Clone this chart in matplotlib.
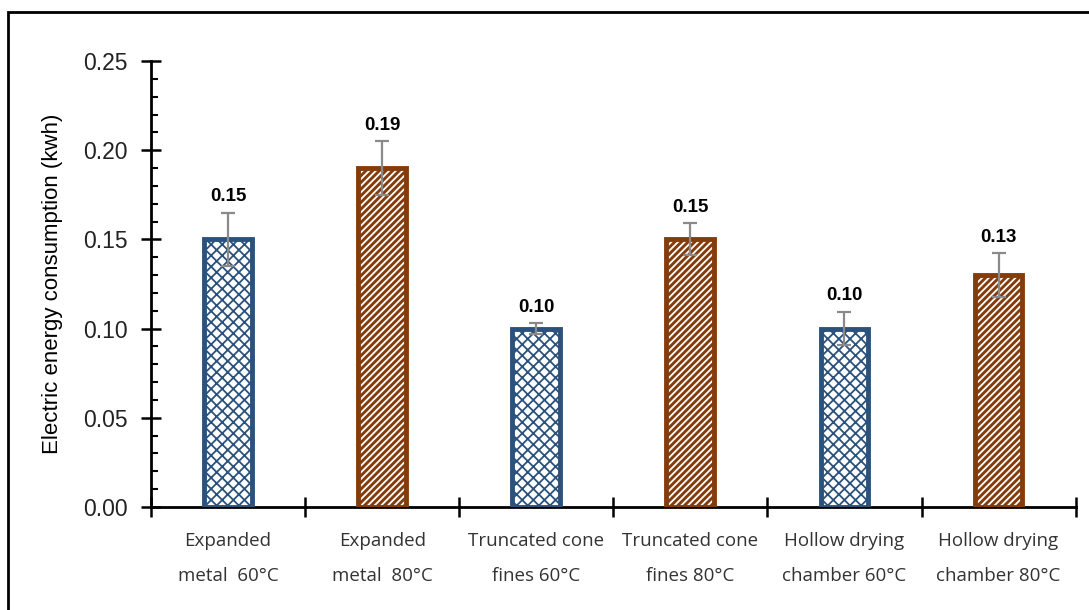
import matplotlib.pyplot as plt
import numpy as np
from matplotlib.patches import Rectangle

# data
labels = ["Expanded\nmetal  60°C", "Expanded\nmetal  80°C", "Truncated cone\nfines 60°C",
          "Truncated cone\nfines 80°C", "Hollow drying\nchamber 60°C", "Hollow drying\nchamber 80°C"]
energy = [0.15, 0.19, 0.10, 0.15, 0.10, 0.13]
err = [0.015, 0.015, 0.003, 0.009, 0.0095, 0.0125]

blue = "#2b527c"
brown = "#843c0c"

plt.rcParams['hatch.linewidth'] = 1.3

fig = plt.figure(figsize=(10.89, 6.10), dpi=100)
ax = fig.add_axes([0.1387, 0.169, 0.849, 0.731])

x = np.arange(len(energy))
w = 0.31
for i in x:
    if i % 2 == 0:
        ax.bar(i, energy[i], w, color="white", edgecolor=blue, hatch="xxx", linewidth=0, zorder=2)
        ax.bar(i, energy[i], w, fill=False, edgecolor=blue, linewidth=3.5, zorder=3)
    else:
        ax.bar(i, energy[i], w, color=brown, edgecolor="white", hatch="/////", linewidth=0, zorder=2)
        ax.bar(i, energy[i], w, fill=False, edgecolor=brown, linewidth=3.5, zorder=3)

ax.errorbar(x, energy, yerr=err, fmt="none", ecolor="#8a8a8a", elinewidth=1.6,
            capsize=5, capthick=1.6, zorder=4)

for i in x:
    ax.text(i, energy[i] + err[i] + 0.004, "%.2f" % energy[i], ha="center", va="bottom",
            fontsize=13.5, fontweight="bold", family="Liberation Sans")

ax.set_xlim(-0.5, len(energy) - 0.5)
ax.set_ylim(0, 0.25)
ax.set_yticks(np.arange(0, 0.26, 0.05))
ax.set_yticklabels(["%.2f" % v for v in np.arange(0, 0.26, 0.05)], family="Liberation Sans",
                   fontsize=16.5, color="#222222")
ax.set_yticks(np.arange(0, 0.251, 0.01), minor=True)
ax.tick_params(axis="y", which="major", direction="inout", length=14, width=1.8, pad=10)
ax.tick_params(axis="y", which="minor", direction="in", length=5, width=1.5)

ax.set_xticks(np.arange(-0.5, len(energy), 1.0))
ax.set_xticklabels([])
ax.set_xticks(x, minor=True)
ax.set_xticklabels(labels, minor=True, fontsize=13.5, family="Open Sans", color="#333333", linespacing=2.2)
ax.tick_params(axis="x", which="major", direction="inout", length=14, width=1.8)
ax.tick_params(axis="x", which="minor", direction="in", length=4, width=1.2, pad=18)

for s in ["top", "right"]:
    ax.spines[s].set_visible(False)
for s in ["left", "bottom"]:
    ax.spines[s].set_linewidth(2)

ax.set_ylabel("Electric energy consumption (kwh)", fontsize=16, family="Liberation Sans", labelpad=14)

# frame around the figure
fig.patches.append(Rectangle((0.007, -0.05), 1.1, 1.03, transform=fig.transFigure,
                             fill=False, edgecolor="black", linewidth=2))

plt.savefig("out.png")
